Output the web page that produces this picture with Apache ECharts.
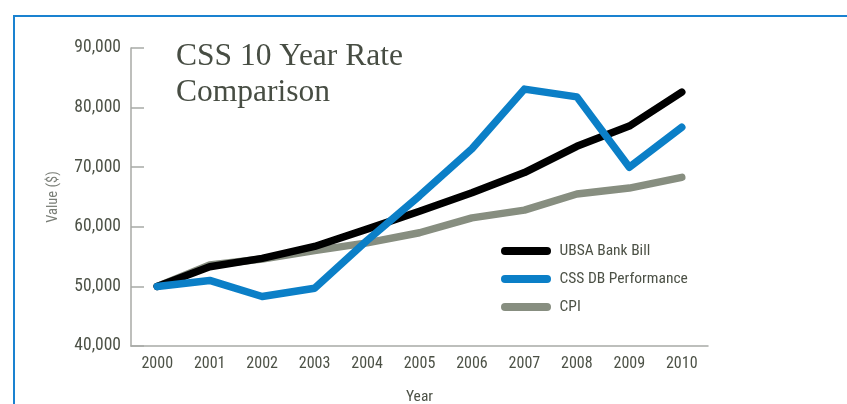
<!DOCTYPE html>
<html>
<head>
<meta charset="utf-8">
<script src="https://cdn.jsdelivr.net/npm/echarts@6/dist/echarts.min.js"></script>
<style>
html,body{margin:0;padding:0;background:#fff;}
#c{width:847px;height:404px;}
</style>
</head>
<body>
<div id="c"></div>
<script>
const years = ['2000','2001','2002','2003','2004','2005','2006','2007','2008','2009','2010'];
const ubsaBankBill = [50000, 53300, 54700, 56700, 59600, 62600, 65700, 69100, 73500, 76900, 82600];
const cssDbPerformance = [50000, 51000, 48300, 49700, 57700, 65200, 73100, 83100, 81800, 70000, 76700];
const cpi = [50000, 53600, 54600, 56000, 57300, 59000, 61500, 62800, 65500, 66500, 68300];
const yTicks = {min: 40000, max: 90000, interval: 10000};

const labelFont = '"Liberation Sans Narrow", "Roboto Condensed", "Liberation Sans", sans-serif';
const textColor = '#4c5146';
const chart = echarts.init(document.getElementById('c'));
chart.setOption({
  animation: false,
  backgroundColor: '#fff',
  graphic: [
    {type: 'line', shape: {x1: 13, y1: 16, x2: 847, y2: 16}, style: {stroke: '#1a82d0', lineWidth: 2}},
    {type: 'line', shape: {x1: 14, y1: 16, x2: 14, y2: 404}, style: {stroke: '#1a82d0', lineWidth: 2}},
    {type: 'text', left: 176, top: 39, style: {text: 'CSS 10 Year Rate\nComparison', font: '31.5px "Liberation Serif", serif', fill: '#474d43', lineHeight: 36}}
  ],
  legend: {
    orient: 'vertical',
    left: 496,
    top: 238,
    itemWidth: 51,
    itemHeight: 8,
    itemGap: 12,
    icon: 'path://M4,0 H46 A4,4 0 0 1 46,8 H4 A4,4 0 0 1 4,0 Z',
    textStyle: {fontFamily: labelFont, fontSize: 15.5, color: textColor, padding: [0,0,0,3]},
    data: ['UBSA Bank Bill', 'CSS DB Performance', 'CPI']
  },
  grid: {left: 131, right: 139, top: 48, bottom: 58, outerBoundsMode: 'none', containLabel: false},
  xAxis: {
    type: 'category',
    data: years,
    boundaryGap: true,
    name: 'Year',
    nameLocation: 'middle',
    nameGap: 43,
    nameTextStyle: {fontFamily: labelFont, fontSize: 15.5, color: textColor},
    axisLine: {lineStyle: {color: '#a8aaa6', width: 1.5}},
    axisTick: {inside: true, length: 7, lineStyle: {color: '#a8aaa6', width: 1.5}},
    axisLabel: {fontFamily: labelFont, fontSize: 16, color: textColor, margin: 10}
  },
  yAxis: {
    type: 'value',
    min: yTicks.min, max: yTicks.max, interval: yTicks.interval,
    name: 'Value ($)',
    nameLocation: 'middle',
    nameGap: 70,
    nameRotate: 90,
    nameTextStyle: {fontFamily: labelFont, fontSize: 14.5, color: '#7a7e77'},
    axisLine: {show: true, lineStyle: {color: '#a8aaa6', width: 1.5}},
    axisTick: {show: true, inside: true, length: 13, lineStyle: {color: '#a8aaa6', width: 1.5}},
    splitLine: {show: false},
    axisLabel: {fontFamily: labelFont, fontSize: 17.5, color: textColor, margin: 10,
      formatter: v => v.toLocaleString('en-US')}
  },
  series: [
    {name: 'UBSA Bank Bill', type: 'line', data: ubsaBankBill, z: 3, symbol: 'none', color: '#000000',
     lineStyle: {width: 7.5, cap: 'round', join: 'round', color: '#000000'}},
    {name: 'CSS DB Performance', type: 'line', data: cssDbPerformance, z: 4, symbol: 'none', color: '#0b7fc7',
     lineStyle: {width: 7.5, cap: 'round', join: 'round', color: '#0b7fc7'}},
    {name: 'CPI', type: 'line', data: cpi, z: 2, symbol: 'none', color: '#878e80',
     lineStyle: {width: 7.5, cap: 'round', join: 'round', color: '#878e80'}}
  ]
});
</script>
</body>
</html>
